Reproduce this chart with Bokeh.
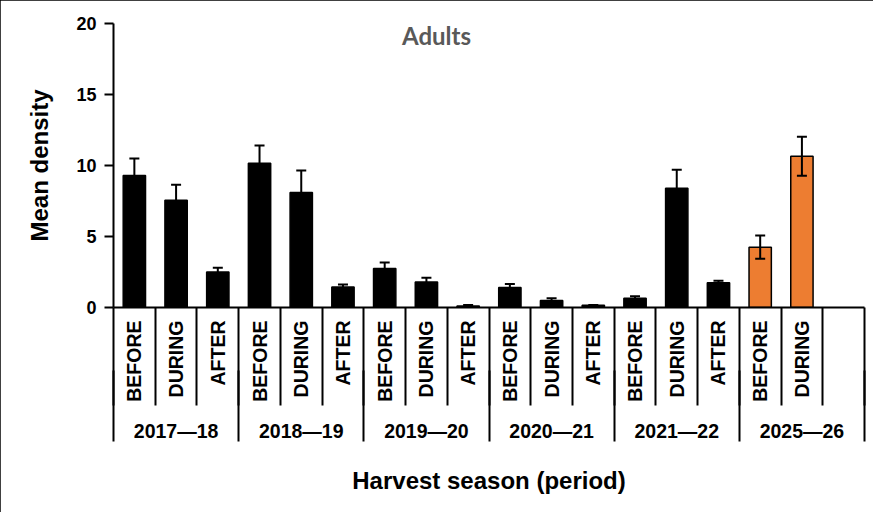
import math
from bokeh.plotting import figure
from bokeh.models import (Range1d, LinearAxis, FixedTicker, Whisker,
                          TeeHead, ColumnDataSource, Label)
from bokeh.embed import file_html
from bokeh.resources import INLINE

# ---------------- data ----------------
seasons = ["2017—18", "2018—19", "2019—20", "2020—21", "2021—22", "2025—26"]
periods = ["BEFORE", "DURING", "AFTER"]

bar_season = ["2017—18"] * 3 + ["2018—19"] * 3 + ["2019—20"] * 3 + \
             ["2020—21"] * 3 + ["2021—22"] * 3 + ["2025—26"] * 2
bar_period = ["BEFORE", "DURING", "AFTER"] * 5 + ["BEFORE", "DURING"]
mean_density = [9.3, 7.55, 2.5, 10.15, 8.1, 1.45, 2.75, 1.8, 0.1,
                 1.4, 0.5, 0.15, 0.65, 8.4, 1.75, 4.25, 10.65]
std_error = [1.2, 1.1, 0.3, 1.25, 1.55, 0.17, 0.42, 0.3, 0.07,
             0.25, 0.15, 0.02, 0.15, 1.3, 0.13, 0.82, 1.38]
highlight_season = "2025—26"
y_ticks = [0, 5, 10, 15, 20]

title_text = "Adults"
y_title = "Mean density"
x_title = "Harvest season (period)"

# ---------------- derived ----------------
factors = [(s, p) for s in seasons for p in periods]   # one slot per season/period
n_slots = len(factors)
slot_of = {f: i for i, f in enumerate(factors)}
xs = [slot_of[(s, p)] + 0.5 for s, p in zip(bar_season, bar_period)]
is_hi = [s == highlight_season for s in bar_season]
fills = ["#ED7D31" if h else "#000000" for h in is_hi]
upper = [m + e for m, e in zip(mean_density, std_error)]
lower = [m - e if h else m for m, e, h in zip(mean_density, std_error, is_hi)]

src = ColumnDataSource(dict(x=xs, top=mean_density, fill=fills))
src_black = ColumnDataSource(dict(
    x=[x for x, h in zip(xs, is_hi) if not h],
    upper=[u for u, h in zip(upper, is_hi) if not h],
    lower=[l for l, h in zip(lower, is_hi) if not h]))
src_hi = ColumnDataSource(dict(
    x=[x for x, h in zip(xs, is_hi) if h],
    upper=[u for u, h in zip(upper, is_hi) if h],
    lower=[l for l, h in zip(lower, is_hi) if h]))

FONT = "Liberation Sans"

p = figure(width=873, height=512, x_range=Range1d(0, n_slots), y_range=Range1d(0, 20),
           output_backend="svg", toolbar_location=None, x_axis_location=None,
           min_border_left=113, min_border_right=9, min_border_top=23,
           min_border_bottom=205)
p.outline_line_color = None
p.xgrid.visible = False
p.ygrid.visible = False
p.background_fill_color = "white"
p.border_fill_color = "white"
p.styles = {"outline": "2px solid black", "outline-offset": "-2px"}

# bars
p.vbar(x="x", top="top", width=0.535, source=src, fill_color="fill",
       line_color="black", line_width=1.5)

# error bars
p.add_layout(Whisker(source=src_black, base="x", upper="upper", lower="lower",
                     line_width=2, line_color="black", level="overlay",
                     upper_head=TeeHead(size=10, line_width=2, line_color="black"),
                     lower_head=None))
p.add_layout(Whisker(source=src_hi, base="x", upper="upper", lower="lower",
                     line_width=2, line_color="black", level="overlay",
                     upper_head=TeeHead(size=10, line_width=2, line_color="black"),
                     lower_head=TeeHead(size=10, line_width=2, line_color="black")))

# y axis
ya = p.yaxis[0]
ya.ticker = FixedTicker(ticks=y_ticks, minor_ticks=[])
ya.axis_line_color = "black"
ya.axis_line_width = 2
ya.major_tick_line_width = 2
ya.major_tick_line_color = "black"
ya.major_tick_out = 9
ya.major_tick_in = 0
ya.minor_tick_line_color = None
ya.major_label_standoff = 8
ya.major_label_text_font = FONT
ya.major_label_text_font_style = "bold"
ya.major_label_text_font_size = "18px"
ya.major_label_text_color = "black"
ya.axis_label = y_title
ya.axis_label_text_font = FONT
ya.axis_label_text_font_style = "bold"
ya.axis_label_text_font_size = "24px"
ya.axis_label_text_color = "black"
ya.axis_label_standoff = 20

# x axes: period labels (+ slot separators), season labels (+ season separators)
boundaries = list(range(n_slots + 1))
group_bounds = list(range(0, n_slots + 1, len(periods)))
group_pos = [i * len(periods) + len(periods) / 2 for i in range(len(seasons))]

per_ax = LinearAxis(ticker=FixedTicker(ticks=xs, minor_ticks=boundaries))
per_ax.axis_line_color = "black"
per_ax.axis_line_width = 2
per_ax.major_tick_line_color = None
per_ax.major_tick_out = 0
per_ax.major_tick_in = 0
per_ax.minor_tick_line_color = "black"
per_ax.minor_tick_line_width = 2
per_ax.minor_tick_out = 98
per_ax.minor_tick_in = 0
per_ax.major_label_overrides = {x: per for x, per in zip(xs, bar_period)}
per_ax.major_label_orientation = math.pi / 2
per_ax.major_label_standoff = -85
per_ax.major_label_text_font = FONT
per_ax.major_label_text_font_style = "bold"
per_ax.major_label_text_font_size = "19.5px"
per_ax.major_label_text_color = "black"
p.add_layout(per_ax, "below")

grp_ax = LinearAxis(ticker=FixedTicker(ticks=group_pos, minor_ticks=group_bounds))
grp_ax.axis_line_color = None
grp_ax.major_tick_line_color = None
grp_ax.major_tick_out = 0
grp_ax.major_tick_in = 0
grp_ax.minor_tick_line_color = "black"
grp_ax.minor_tick_line_width = 2
grp_ax.minor_tick_in = 34
grp_ax.minor_tick_out = 37
grp_ax.major_label_overrides = {x: s for x, s in zip(group_pos, seasons)}
grp_ax.major_label_standoff = -22
grp_ax.major_label_text_font = FONT
grp_ax.major_label_text_font_style = "bold"
grp_ax.major_label_text_font_size = "19.5px"
grp_ax.major_label_text_color = "black"
grp_ax.axis_label = x_title
grp_ax.axis_label_standoff = 22
grp_ax.axis_label_text_font = FONT
grp_ax.axis_label_text_font_style = "bold"
grp_ax.axis_label_text_font_size = "24px"
grp_ax.axis_label_text_color = "black"
p.add_layout(grp_ax, "below")

# title inside the plot area, centred on the chart
p.add_layout(Label(x=323, y=272, x_units="screen", y_units="screen", text=title_text,
                   text_align="center", text_baseline="middle", text_font="Lato",
                   text_font_style="bold", text_font_size="24px", text_color="#595959"))

open("out.html", "w").write(file_html(p, INLINE))
